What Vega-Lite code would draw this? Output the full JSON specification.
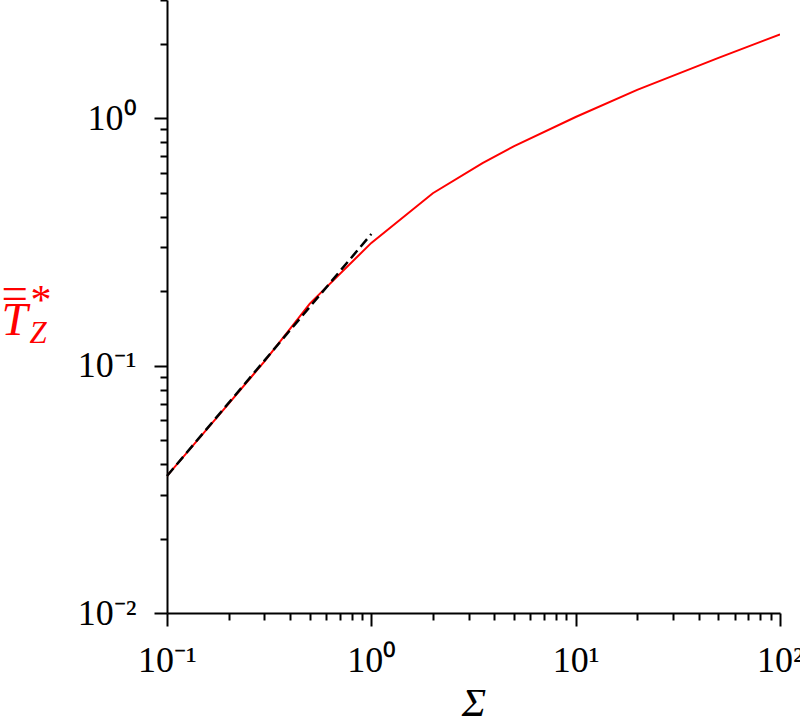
{
  "$schema": "https://vega.github.io/schema/vega-lite/v6.json",
  "width": 613,
  "height": 613,
  "autosize": {"type": "none"},
  "padding": {"left": 167, "top": 0, "right": 20, "bottom": 110},
  "background": "white",
  "config": {"view": {"stroke": null}, "font": "Liberation Serif", "axis": {"labelFont": "Liberation Serif", "titleFont": "Liberation Serif"}},
  "data": {"values": [
    {"x": 0.1, "y": 0.0358, "series": "model"},
    {"x": 0.2, "y": 0.070, "series": "model"},
    {"x": 0.3, "y": 0.104, "series": "model"},
    {"x": 0.5, "y": 0.178, "series": "model"},
    {"x": 1, "y": 0.313, "series": "model"},
    {"x": 2, "y": 0.497, "series": "model"},
    {"x": 3.5, "y": 0.658, "series": "model"},
    {"x": 5, "y": 0.77, "series": "model"},
    {"x": 10, "y": 1.01, "series": "model"},
    {"x": 20, "y": 1.30, "series": "model"},
    {"x": 50, "y": 1.75, "series": "model"},
    {"x": 100, "y": 2.18, "series": "model"},
    {"x": 0.1, "y": 0.0358, "series": "asymptote"},
    {"x": 1, "y": 0.34, "series": "asymptote"}
  ]},
  "resolve": {"axis": {"x": "independent", "y": "independent"}},
  "layer": [
    {
      "transform": [{"filter": "datum.series == 'model'"}],
      "mark": {"type": "line", "color": "#ff0000", "strokeWidth": 2, "clip": true},
      "encoding": {
        "x": {"field": "x", "type": "quantitative",
          "scale": {"type": "log", "domain": [0.1, 100], "nice": false},
          "axis": {
            "orient": "bottom",
            "title": "*",
            "titleFontStyle": "normal", "titleFontWeight": "normal",
            "titleFontSize": 42, "titleColor": "#ff0000",
            "titleAngle": 0, "titleAlign": "left", "titleBaseline": "alphabetic",
            "titleX": -137, "titleY": -300,
            "values": [0.2,0.3,0.4,0.5,0.6,0.7,0.8,0.9,2,3,4,5,6,7,8,9,20,30,40,50,60,70,80,90],
            "labels": false, "grid": false, "domain": false,
            "tickColor": "black", "tickWidth": 2, "tickSize": 7
          }
        },
        "y": {"field": "y", "type": "quantitative",
          "scale": {"type": "log", "domain": [0.01, 3], "nice": false},
          "axis": {
            "orient": "left",
            "title": "Z",
            "titleFontStyle": "italic", "titleFontWeight": "normal",
            "titleFontSize": 31, "titleColor": "#ff0000",
            "titleAngle": 0, "titleAlign": "left", "titleBaseline": "alphabetic",
            "titleX": -138, "titleY": 342,
            "values": [0.02,0.03,0.04,0.05,0.06,0.07,0.08,0.09,0.2,0.3,0.4,0.5,0.6,0.7,0.8,0.9,2,3],
            "labels": false, "grid": false, "domain": false,
            "tickColor": "black", "tickWidth": 2, "tickSize": 7
          }
        }
      }
    },
    {
      "transform": [{"filter": "datum.series == 'model'"}],
      "mark": {"type": "line", "strokeOpacity": 0},
      "encoding": {
        "x": {"field": "x", "type": "quantitative",
          "axis": {
            "orient": "bottom",
            "title": "=",
            "titleFontStyle": "normal", "titleFontWeight": "normal",
            "titleFontSize": 47, "titleColor": "#ff0000",
            "titleAngle": 0, "titleAlign": "left", "titleBaseline": "alphabetic",
            "titleX": -166, "titleY": -305,
            "labels": false, "ticks": false, "grid": false, "domain": false
          }
        },
        "y": {"field": "y", "type": "quantitative",
          "axis": {
            "orient": "left",
            "title": "T",
            "titleFontStyle": "italic", "titleFontWeight": "normal",
            "titleFontSize": 47, "titleColor": "#ff0000",
            "titleAngle": 0, "titleAlign": "left", "titleBaseline": "alphabetic",
            "titleX": -166, "titleY": 334,
            "labels": false, "ticks": false, "grid": false, "domain": false
          }
        }
      }
    },
    {
      "transform": [{"filter": "datum.series == 'asymptote'"}],
      "mark": {"type": "line", "color": "black", "strokeWidth": 2.5, "strokeDash": [10, 5]},
      "encoding": {
        "x": {
          "field": "x", "type": "quantitative",
          "axis": {
            "orient": "bottom",
            "title": "Σ",
            "titleFontStyle": "italic", "titleFontWeight": "normal",
            "titleFontSize": 41, "titleColor": "black",
            "titleBaseline": "alphabetic", "titleY": 102,
            "values": [0.1, 1, 10, 100],
            "labelExpr": "datum.value == 0.1 ? '10⁻¹' : datum.value == 1 ? '10⁰' : datum.value == 10 ? '10¹' : '10²'",
            "labelFontSize": 36, "labelColor": "black",
            "labelPadding": 17, "labelOverlap": false, "labelFlush": false,
            "grid": false, "domainColor": "black", "domainWidth": 2,
            "tickColor": "black", "tickWidth": 2, "tickSize": 13
          }
        },
        "y": {
          "field": "y", "type": "quantitative",
          "axis": {
            "orient": "left",
            "title": null,
            "values": [0.01, 0.1, 1],
            "labelExpr": "datum.value == 0.01 ? '10⁻²' : datum.value == 0.1 ? '10⁻¹' : '10⁰'",
            "labelFontSize": 36, "labelColor": "black",
            "labelPadding": 18, "labelOverlap": false, "labelFlush": false,
            "grid": false, "domainColor": "black", "domainWidth": 2,
            "tickColor": "black", "tickWidth": 2, "tickSize": 13
          }
        }
      }
    }
  ]
}
